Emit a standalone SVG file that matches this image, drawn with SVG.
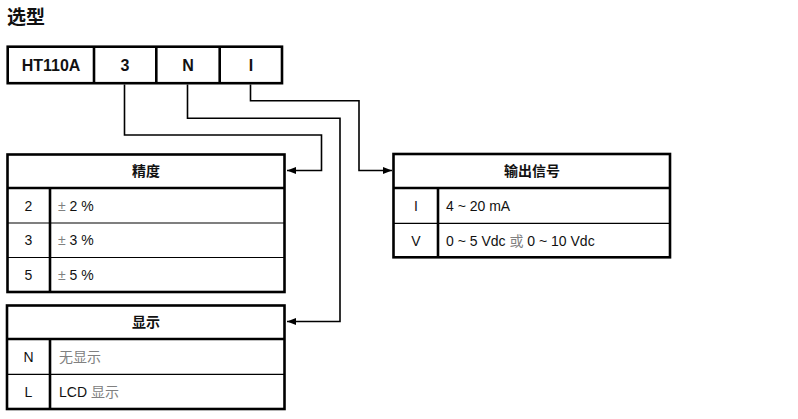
<svg xmlns="http://www.w3.org/2000/svg" width="798" height="419" viewBox="0 0 798 419">
<style>
.thick{fill:none;stroke:#000;stroke-width:2.6}
.thin{fill:none;stroke:#000;stroke-width:1.2}
.conn{fill:none;stroke:#000;stroke-width:1.6}
.code{font-family:"Liberation Sans",Arial,sans-serif;font-size:16px;font-weight:bold;fill:#111;text-anchor:middle}
.hdr{font-family:"Noto Sans CJK SC",sans-serif;font-size:14px;font-weight:bold;fill:#111;text-anchor:middle}
.key{font-family:"Liberation Sans",Arial,sans-serif;font-size:14px;fill:#111;text-anchor:middle}
.val{font-family:"Liberation Sans","Noto Sans CJK SC",sans-serif;font-size:14px;fill:#111}
.cjk{font-family:"Noto Sans CJK SC",sans-serif;fill:#808080}
.pm{fill:#808080}
.title{font-family:"Noto Sans CJK SC",sans-serif;font-size:19px;font-weight:bold;fill:#111}
</style>
<defs>
<marker id="arr" markerUnits="userSpaceOnUse" markerWidth="10" markerHeight="8" refX="9" refY="3.5" orient="auto">
<path d="M0,0 L9,3.5 L0,7 z" fill="#000"/>
</marker>
</defs>
<rect width="798" height="419" fill="#fff"/>
<text class="title" x="7" y="24">选型</text>

<g id="model-code">
<rect class="thick" x="7.7" y="46.7" width="274.3" height="36.5"/>
<line class="thick" x1="94" y1="46.7" x2="94" y2="83.2"/>
<line class="thick" x1="156.3" y1="46.7" x2="156.3" y2="83.2"/>
<line class="thick" x1="219.7" y1="46.7" x2="219.7" y2="83.2"/>
<text class="code" x="51" y="71">HT110A</text>
<text class="code" x="125" y="71">3</text>
<text class="code" x="188" y="71">N</text>
<text class="code" x="251" y="71">I</text>
</g>

<g id="connectors">
<path class="conn" d="M124.5,84.5 V135 H321.5 V170.5 H287" marker-end="url(#arr)"/>
<path class="conn" d="M187.5,84.5 V118.3 H340 V321.5 H287" marker-end="url(#arr)"/>
<path class="conn" d="M250.5,84.5 V100.7 H359 V170.5 H392" marker-end="url(#arr)"/>
</g>

<g id="accuracy-table">
<rect class="thick" x="7.5" y="154.5" width="277" height="137.5"/>
<line class="thick" x1="7.5" y1="188" x2="284.5" y2="188"/>
<line class="thick" x1="50" y1="188" x2="50" y2="292"/>
<line class="thin" x1="7.5" y1="223" x2="284.5" y2="223"/>
<line class="thin" x1="7.5" y1="257.5" x2="284.5" y2="257.5"/>
<text class="hdr" x="146" y="175.5">精度</text>
<text class="key" x="28.5" y="210.5">2</text>
<text class="val" x="58" y="210.5"><tspan class="pm">±</tspan> 2 %</text>
<text class="key" x="28.5" y="245">3</text>
<text class="val" x="58" y="245"><tspan class="pm">±</tspan> 3 %</text>
<text class="key" x="28.5" y="280">5</text>
<text class="val" x="58" y="280"><tspan class="pm">±</tspan> 5 %</text>
</g>

<g id="display-table">
<rect class="thick" x="7" y="305.5" width="277.5" height="103.5"/>
<line class="thick" x1="7" y1="339" x2="284.5" y2="339"/>
<line class="thick" x1="50" y1="339" x2="50" y2="409"/>
<line class="thin" x1="7" y1="374.3" x2="284.5" y2="374.3"/>
<text class="hdr" x="146" y="327">显示</text>
<text class="key" x="28.5" y="361.5">N</text>
<text class="val" x="59" y="361.5"><tspan class="cjk">无显示</tspan></text>
<text class="key" x="28.5" y="396.5">L</text>
<text class="val" x="59" y="396.5">LCD <tspan class="cjk">显示</tspan></text>
</g>

<g id="output-table">
<rect class="thick" x="393.5" y="154" width="276.5" height="103.3"/>
<line class="thick" x1="393.5" y1="188" x2="670" y2="188"/>
<line class="thick" x1="438" y1="188" x2="438" y2="257.3"/>
<line class="thin" x1="393.5" y1="223.3" x2="670" y2="223.3"/>
<text class="hdr" x="532" y="176">输出信号</text>
<text class="key" x="416" y="210.5">I</text>
<text class="val" x="446" y="210.5">4 ~ 20 mA</text>
<text class="key" x="416" y="245.5">V</text>
<text class="val" x="446" y="245.5">0 ~ 5 Vdc <tspan class="cjk">或</tspan> 0 ~ 10 Vdc</text>
</g>
</svg>
